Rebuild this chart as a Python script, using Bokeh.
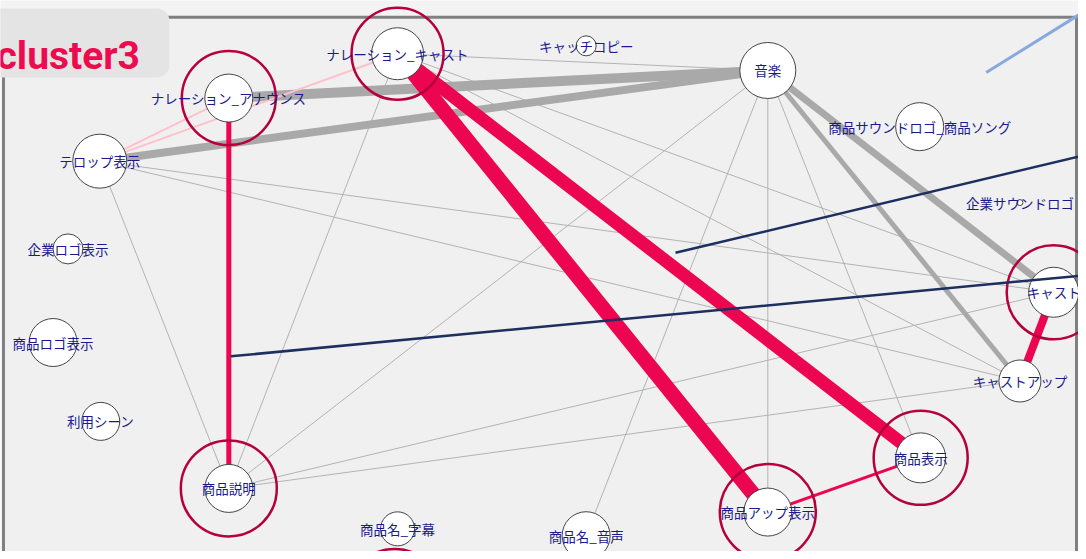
from bokeh.plotting import figure
from bokeh.models import ColumnDataSource, Range1d, Label
from bokeh.core.properties import value
from bokeh.embed import file_html
from bokeh.resources import INLINE

# ---------------- data ----------------
node_names = ["ナレーション_キャスト", "ナレーション_アナウンス", "テロップ表示", "企業ロゴ表示",
              "商品ロゴ表示", "利用シーン", "商品説明", "商品名_字幕", "キャッチコピー", "音楽",
              "商品サウンドロゴ_商品ソング", "企業サウンドロゴ", "キャスト", "キャストアップ",
              "商品表示", "商品アップ表示", "商品名_音声"]
node_x = [400, 230, 100, 68, 53, 101, 230, 400, 590, 773, 926, 1027, 1061, 1027, 927, 773, 590]
node_y = [54, 99, 163, 252, 347, 427, 495, 536, 46, 71, 128, 205, 296, 386, 464, 519, 543]
node_r = [26, 24, 27, 15, 24, 19, 24, 17, 10, 28, 24, 3, 25, 21, 25, 24, 24]

ring_nodes = ["ナレーション_キャスト", "ナレーション_アナウンス", "商品説明", "キャスト", "商品表示", "商品アップ表示"]
ring_r = [46, 47, 48, 47, 47, 48]
# ring of a node lying below the visible area
offscreen_ring_x = [397]
offscreen_ring_y = [604]
offscreen_ring_r = [47]

edge_src = ["ナレーション_キャスト", "ナレーション_キャスト", "ナレーション_キャスト", "ナレーション_キャスト",
            "テロップ表示", "テロップ表示", "テロップ表示", "商品説明", "商品説明", "商品説明",
            "音楽", "音楽", "音楽",
            "音楽", "音楽", "音楽", "音楽",
            "テロップ表示", "テロップ表示",
            "ナレーション_キャスト", "ナレーション_キャスト", "ナレーション_アナウンス", "キャスト", "商品アップ表示"]
edge_dst = ["音楽", "キャスト", "キャストアップ", "商品説明",
            "商品説明", "キャスト", "キャストアップ", "音楽", "キャスト", "キャストアップ",
            "商品名_音声", "商品アップ表示", "商品表示",
            "ナレーション_アナウンス", "テロップ表示", "キャスト", "キャストアップ",
            "ナレーション_アナウンス", "ナレーション_キャスト",
            "商品アップ表示", "商品表示", "商品説明", "キャストアップ", "商品表示"]
edge_weight = [1, 1, 1, 1, 1, 1, 1, 1, 1, 1, 1, 1, 1,
               10, 8, 7, 5,
               2, 2,
               15, 13, 5, 8, 3]
edge_kind = ["thin"] * 13 + ["gray"] * 4 + ["pink"] * 2 + ["red"] * 5

# edges leading to nodes of other clusters (only partially visible)
stray_x0 = [993, 680, 232]
stray_y0 = [73, 256, 361]
stray_x1 = [1100, 1100, 1100]
stray_y1 = [6, 155, 278]
stray_kind = ["light", "navy", "navy"]

title_text = "cluster3"

# ---------------- styles ----------------
kind_color = {"thin": "#b3b3b3", "gray": "#a9a9a9", "pink": "#ffc0cb", "red": "#ec0550"}
stray_color = {"light": "#88a8e0", "navy": "#1c2f5e"}
stray_width = {"light": 3, "navy": 2.5}

W, H = 1078, 551
p = figure(width=W, height=H, x_range=Range1d(0, 1086), y_range=Range1d(559, 0),
           output_backend="svg", toolbar_location=None, min_border=0)
p.axis.visible = False
p.grid.visible = False
p.outline_line_color = None
p.background_fill_color = "#f3f3f3"
p.border_fill_color = "#f3f3f3"

# network frame
p.quad(left=3, right=1084, top=17, bottom=700, fill_color="#f0f0f0",
       line_color="#808080", line_width=3)

pos = {n: (x, y) for n, x, y in zip(node_names, node_x, node_y)}

# edges by kind
for kind in ["thin", "gray", "pink", "red"]:
    idx = [i for i, k in enumerate(edge_kind) if k == kind]
    src = ColumnDataSource(dict(
        x0=[pos[edge_src[i]][0] for i in idx], y0=[pos[edge_src[i]][1] for i in idx],
        x1=[pos[edge_dst[i]][0] for i in idx], y1=[pos[edge_dst[i]][1] for i in idx],
        w=[edge_weight[i] for i in idx]))
    p.segment("x0", "y0", "x1", "y1", source=src, line_width="w",
              line_color=kind_color[kind], line_cap="butt")

# highlight rings
ring_src = ColumnDataSource(dict(
    x=[pos[n][0] for n in ring_nodes] + offscreen_ring_x,
    y=[pos[n][1] for n in ring_nodes] + offscreen_ring_y,
    s=[2 * r for r in ring_r + offscreen_ring_r]))
p.scatter("x", "y", size="s", source=ring_src, fill_color=None,
          line_color="#b5003c", line_width=2.5)

# nodes
node_src = ColumnDataSource(dict(x=node_x, y=node_y, s=[2 * r for r in node_r], name=node_names))
p.scatter("x", "y", size="s", source=node_src, fill_color="white",
          line_color="#444444", line_width=1)
p.text("x", "y", text="name", source=node_src, text_align="center", text_baseline="middle",
       text_font=value("Noto Sans CJK JP"), text_font_size="13.5px", text_color="#1a1a8c")

# stray edges (drawn above the nodes)
for kind in ["light", "navy"]:
    idx = [i for i, k in enumerate(stray_kind) if k == kind]
    p.segment([stray_x0[i] for i in idx], [stray_y0[i] for i in idx],
              [stray_x1[i] for i in idx], [stray_y1[i] for i in idx],
              line_color=stray_color[kind], line_width=stray_width[kind])

# cluster title box
p.quad(left=-20, right=170, top=8, bottom=78, fill_color="#e4e4e4", line_color=None,
       border_radius=12)
p.add_layout(Label(x=-4, y=56, text=title_text, text_font="Roboto", text_font_style="bold",
                   text_font_size="39px", text_color="#ee0a4f", text_baseline="alphabetic"))

open("out.html", "w").write(file_html(p, INLINE))
